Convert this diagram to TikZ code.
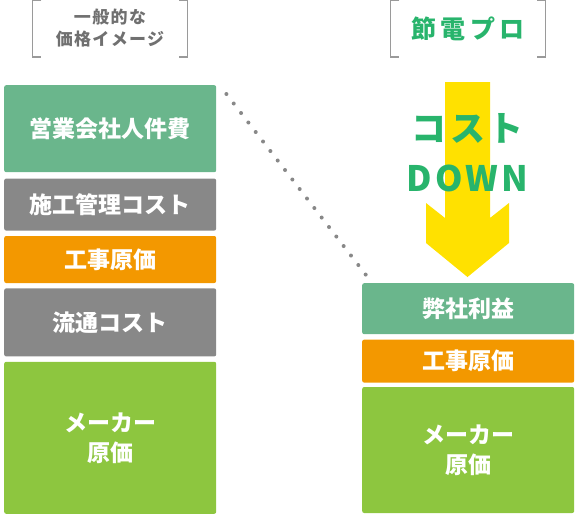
\documentclass[tikz,border=0pt]{standalone}
\usepackage{fontspec}
\setmainfont{Noto Sans CJK JP}
\usetikzlibrary{positioning}
\definecolor{salesgreen}{HTML}{6AB68C}
\definecolor{costgray}{HTML}{888888}
\definecolor{workorange}{HTML}{F39800}
\definecolor{makergreen}{HTML}{8DC63F}
\definecolor{downyellow}{HTML}{FFE100}
\definecolor{brandgreen}{HTML}{28B46C}
\definecolor{hdrgray}{HTML}{707070}
\definecolor{brkgray}{HTML}{9A9A9A}
\tikzset{
    block/.style={rounded corners=2pt,text=white,minimum width=212pt,inner sep=0pt,align=center,
        font=\fontsize{23}{30}\selectfont\bfseries},
    sales/.style={block,fill=salesgreen},
    graycost/.style={block,fill=costgray},
    work/.style={block,fill=workorange},
    maker/.style={block,fill=makergreen},
    header/.style={minimum width=155pt,minimum height=57pt,inner sep=0pt,align=center},
    brk/.style={draw=brkgray,line width=1.5pt},
    dotline/.style={draw=costgray,line width=4pt,line cap=round,dash pattern=on 0pt off 12pt}
}
\begin{document}
\begin{tikzpicture}[x=1pt,y=-1pt]
\useasboundingbox (0,0) rectangle (578,517);

% headers
\node[header,text=hdrgray,font=\fontsize{17}{22}\selectfont\bfseries\addfontfeature{LetterSpace=8}]
    (hdrL) at (110,28.5) {一般的な\\価格イメージ};
\node[header,text=brandgreen,font=\fontsize{25}{30}\selectfont\bfseries\addfontfeature{LetterSpace=17}]
    (hdrR) at (468,28.5) {節電プロ};
\foreach \h in {hdrL,hdrR} {
    \draw[brk] ([xshift=9pt]\h.north west) -| (\h.south west) -- ++(9,0);
    \draw[brk] ([xshift=-9pt]\h.north east) -| (\h.south east) -- ++(-9,0);
}

% general price
\node[sales,minimum height=87pt,anchor=north west] (salesL) at (4,85) {営業会社人件費};
\node[graycost,minimum height=52pt,below=6pt of salesL] (mgmtL) {施工管理コスト};
\node[work,minimum height=47pt,below=5pt of mgmtL] (workL) {工事原価};
\node[graycost,minimum height=68pt,below=5pt of workL] (distL) {流通コスト};
\node[maker,minimum height=152pt,below=5pt of distL] (makerL) {メーカー\\原価};

% setsuden pro
\node[sales,minimum height=51pt,anchor=north west] (profR) at (362,283) {弊社利益};
\node[work,minimum height=43pt,below=5pt of profR] (workR) {工事原価};
\node[maker,minimum height=126pt,below=4pt of workR] (makerR) {メーカー\\原価};

% cost down arrow
\fill[downyellow] (445,82) -- (490,82) -- (490,218) -- (509,203) -- (509,243)
    -- (467.5,277) -- (426,243) -- (426,203) -- (445,218) -- cycle;
\node[text=brandgreen,align=center,font=\fontsize{35}{50}\selectfont\bfseries\addfontfeature{LetterSpace=9}]
    (down) at (467.5,153) {コスト\\DOWN};

\draw[dotline] ([shift={(10pt,-9pt)}]salesL.north east) -- ([shift={(4pt,8pt)}]profR.north west);
\end{tikzpicture}
\end{document}
